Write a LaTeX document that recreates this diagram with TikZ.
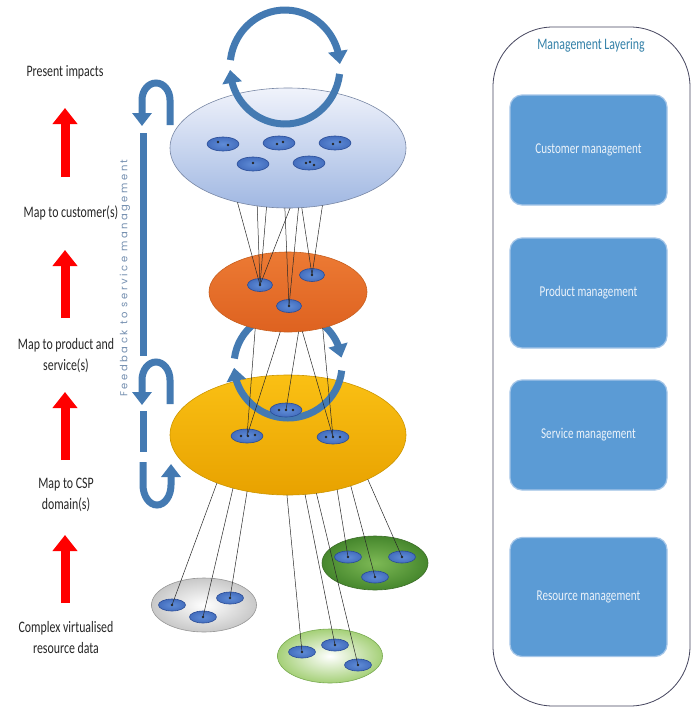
\documentclass[tikz,border=0pt]{standalone}
\usepackage{fontspec}
\newfontfamily\labelfont{Carlito}[FakeStretch=0.74]
\newfontfamily\fbfont{Poppins}[LetterSpace=25]
\usetikzlibrary{arrows.meta,bending,shapes.geometric}
\definecolor{cycblue}{RGB}{68,122,178}
\definecolor{boxblue}{RGB}{91,155,213}
\definecolor{boxrim}{RGB}{165,198,232}
\definecolor{boxtext}{RGB}{236,243,250}
\definecolor{cellblue}{RGB}{68,110,190}
\definecolor{cellcore}{RGB}{95,140,215}
\definecolor{celledge}{RGB}{40,75,150}
\definecolor{linkgray}{RGB}{40,40,40}
\definecolor{fbgray}{RGB}{115,142,175}
\definecolor{titleteal}{RGB}{50,128,168}
\definecolor{panelline}{RGB}{70,70,95}
\definecolor{yelrim}{RGB}{205,150,0}
\definecolor{yeltop}{RGB}{250,192,20}
\definecolor{yelmid}{RGB}{255,204,45}
\definecolor{yelbot}{RGB}{232,162,0}
\definecolor{orgrim}{RGB}{200,95,30}
\definecolor{orgtop}{RGB}{236,122,52}
\definecolor{orgmid}{RGB}{245,150,88}
\definecolor{orgbot}{RGB}{222,98,32}
\definecolor{toprim}{RGB}{120,135,165}
\definecolor{toptop}{RGB}{240,243,251}
\definecolor{topbot}{RGB}{160,183,226}
\definecolor{greyrim}{RGB}{150,150,150}
\definecolor{greyout}{RGB}{200,200,200}
\definecolor{lgrim}{RGB}{120,170,80}
\definecolor{lgout}{RGB}{165,208,120}
\definecolor{dgrim}{RGB}{60,110,40}
\definecolor{dgin}{RGB}{125,185,85}
\definecolor{dgout}{RGB}{70,135,45}
\begin{document}
\begin{tikzpicture}[x=1pt,y=-1pt,
  cyc/.style={line width=7pt, draw=cycblue, -{Triangle[width=19pt,length=13pt]}},
  fbbar/.style={line width=7pt, draw=cycblue},
  redarrow/.style={line width=9pt, draw=red, -{Triangle[width=24pt,length=16pt]}},
  label/.style={font=\labelfont\fontsize{16}{21}\selectfont, text=black!85, align=center},
  bigell/.style={ellipse, inner sep=0pt, outer sep=0pt, line width=0.6pt},
  cell/.style={ellipse, inner sep=0pt, outer sep=0pt, minimum width=32pt, minimum height=14pt,
    draw=celledge, line width=0.6pt, inner color=cellcore, outer color=cellblue},
  mcell/.style={cell, minimum width=25pt, minimum height=13pt},
  scell/.style={cell, minimum width=27pt, minimum height=12pt},
  link/.style={draw=linkgray, line width=0.5pt},
  mbox/.style={rectangle, rounded corners=12pt, fill=boxblue, draw=boxrim, line width=1.2pt,
    minimum width=157pt, text=boxtext, font=\labelfont\fontsize{15}{18}\selectfont}
]
% canvas
\path[fill=white] (0,0) rectangle (693,710);
\useasboundingbox (0,0) rectangle (693,710);

% ---------- management layering panel ----------
\node[draw=panelline, line width=0.8pt, rounded corners=60pt, minimum width=197pt, minimum height=679pt]
  (panel) at (591.5,366.5) {};
\node[font=\labelfont\fontsize{16}{18}\selectfont, text=titleteal] (ptitle) at (591,45) {Management Layering};
\node[mbox, minimum height=110pt] (cust) at (588.5,150) {Customer management};
\node[mbox, minimum height=110pt] (prod) at (588.5,293) {Product management};
\node[mbox, minimum height=110pt] (serv) at (588.5,435) {Service management};
\node[mbox, minimum height=119pt] (res)  at (588.5,597) {Resource management};

% ---------- left labels and red arrows ----------
\node[label] (l1) at (65,72)  {Present impacts};
\node[label] (l2) at (71,213) {Map to customer(s)};
\node[label] (l3) at (66,356) {Map to product and\\service(s)};
\node[label] (l4) at (66,495) {Map to CSP\\domain(s)};
\node[label] (l5) at (66,637) {Complex virtualised\\resource data};
\coordinate (r1b) at (65,177); \coordinate (r1t) at (65,108);
\coordinate (r2b) at (65,318); \coordinate (r2t) at (65,250);
\coordinate (r3b) at (65,460); \coordinate (r3t) at (65,392);
\coordinate (r4b) at (65,603); \coordinate (r4t) at (65,535);
\draw[redarrow] (r1b) -- (r1t);
\draw[redarrow] (r2b) -- (r2t);
\draw[redarrow] (r3b) -- (r3t);
\draw[redarrow] (r4b) -- (r4t);

% ---------- feedback loop on the left ----------
\draw[cyc] (170,125) -- (170,100) arc[start angle=0, end angle=-180, x radius=14, y radius=17] -- (142,126);
\draw[fbbar] (143,133) -- (143,356);
\draw[cyc] (170,404) -- (170,380) arc[start angle=0, end angle=-180, x radius=14, y radius=18] -- (142,405);
\draw[fbbar] (143,411) -- (143,452);
\draw[cyc] (143,462) -- (143,485) arc[start angle=180, end angle=0, x radius=14, y radius=20] -- (171,464);
\node[rotate=90, text=fbgray, font=\fbfont\fontsize{10}{12}\selectfont] (fbtext) at (125,278)
  {Feedback to service management};

% ---------- domain layer (yellow) ----------
\node[bigell, minimum width=236pt, minimum height=120pt, draw=yelrim,
  top color=yeltop, middle color=yelmid, bottom color=yelbot] (yel) at (288,435) {};

% cycle between product and domain layers
\coordinate (midc) at (288,365);
\draw[cyc] ([shift={(187:54 and 53)}]midc) arc[start angle=187, end angle=352, x radius=54, y radius=53];
\draw[cyc] ([shift={(6:54 and 53)}]midc) arc[start angle=6, end angle=177, x radius=54, y radius=53];

% ---------- product layer (orange) ----------
\node[bigell, minimum width=158pt, minimum height=80pt, draw=orgrim,
  top color=orgtop, middle color=orgmid, bottom color=orgbot] (org) at (288,292) {};

% ---------- customer layer (light blue) ----------
\node[bigell, minimum width=236pt, minimum height=120pt, draw=toprim,
  top color=toptop, bottom color=topbot] (top) at (288,148) {};

% cycle above the customer layer
\coordinate (topc) at (285,67);
\draw[cyc] ([shift={(187:55 and 57)}]topc) arc[start angle=187, end angle=357, x radius=55, y radius=57];
\draw[cyc] ([shift={(7:55 and 57)}]topc) arc[start angle=7, end angle=177, x radius=55, y radius=57];

% ---------- resource pools ----------
\node[bigell, minimum width=105pt, minimum height=54pt, draw=greyrim,
  inner color=white, outer color=greyout] (grey) at (204,605) {};
\node[bigell, minimum width=105pt, minimum height=54pt, draw=lgrim,
  inner color=white, outer color=lgout] (lgreen) at (330,656) {};
\node[bigell, minimum width=106pt, minimum height=54pt, draw=dgrim,
  inner color=dgin, outer color=dgout] (dgreen) at (375,563) {};

% ---------- small element clusters ----------
\node[cell] (t1) at (223,144) {};
\node[cell] (t2) at (279,143) {};
\node[cell] (t3) at (335,143) {};
\node[cell] (t4) at (253,164) {};
\node[cell] (t5) at (309,163) {};
\node[mcell] (o1) at (260,285) {};
\node[mcell] (o2) at (312,275) {};
\node[mcell] (o3) at (289,306) {};
\node[cell] (y1) at (286,410) {};
\node[cell] (y2) at (247,436) {};
\node[cell] (y3) at (333,437) {};
\node[scell] (g1) at (172,605) {};
\node[scell] (g2) at (203,617) {};
\node[scell] (g3) at (230,598) {};
\node[scell] (e1) at (302,652) {};
\node[scell] (e2) at (335,645) {};
\node[scell] (e3) at (358,665) {};
\node[scell] (d1) at (348,557) {};
\node[scell] (d2) at (375,577) {};
\node[scell] (d3) at (402,557) {};

% ---------- mappings ----------
\draw[link] (top.227) -- (o1.center);
\draw[link] (top.242) -- (o1.center);
\draw[link] (top.250) -- (o1.center);
\draw[link] (top.272) -- (o1.center);
\draw[link] (top.267) -- (o3.center);
\draw[link] (top.280) -- (o3.center);
\draw[link] (top.283) -- (o2.center);
\draw[link] (top.301) -- (o2.center);

\draw[link] (org.228) -- (y2.center);
\draw[link] (org.259) -- (y2.center);
\draw[link] (org.285) -- (y1.center);
\draw[link] (org.290) -- (y3.center);
\draw[link] (org.314) -- (y3.center);

\draw[link] (yel.214) -- (g1.center);
\draw[link] (yel.224) -- (g2.center);
\draw[link] (yel.234) -- (g3.center);
\draw[link] (yel.269) -- (e1.center);
\draw[link] (yel.286) -- (e2.center);
\draw[link] (yel.296) -- (e3.center);
\draw[link] (yel.312) -- (d1.center);
\draw[link] (yel.321) -- (d2.center);
\draw[link] (yel.331) -- (d3.center);

% ---------- element dots ----------
\foreach \p in {(218,142),(228,145),(277,144),(283,142),(333,144),(340,142),(253,163),
  (306,163),(310,162),(314,165),
  (260,285),(312,275),(289,306),
  (279,410),(286,410),(293,410),(241,436),(248,436),(255,435),(326,437),(333,437),(340,437),
  (172,605),(203,617),(230,598),(302,652),(335,645),(358,665),(348,557),(375,577),(402,557)}
  \fill[black!85] \p circle[radius=1.4];
\end{tikzpicture}
\end{document}
